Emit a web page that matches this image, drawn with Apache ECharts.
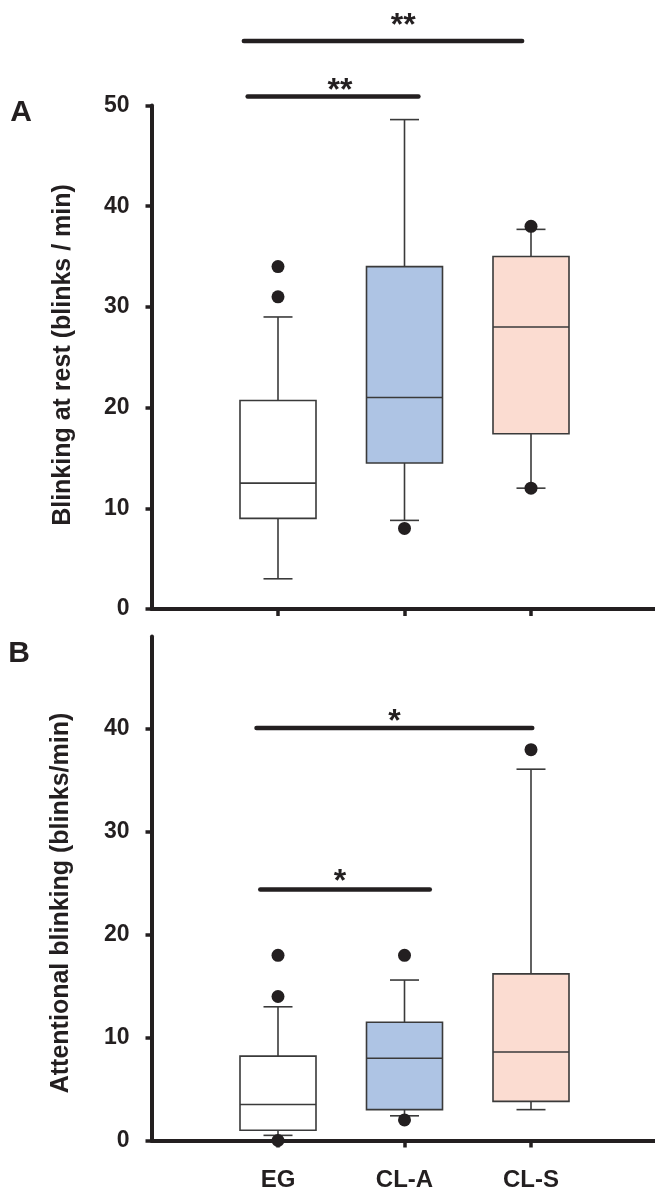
<!DOCTYPE html>
<html>
<head>
<meta charset="utf-8">
<script src="https://cdn.jsdelivr.net/npm/echarts@6/dist/echarts.min.js"></script>
<style>
  html, body { margin: 0; padding: 0; background: #ffffff; }
  #chart { width: 655px; height: 1193px; }
</style>
</head>
<body>
<div id="chart"></div>
<script>
// Groups
const categories = ['EG', 'CL-A', 'CL-S'];

// Blinking at rest: [lower whisker, Q1, median, Q3, upper whisker] per group
const restBoxes = [
  [3, 9, 12.5, 20.7, 29],
  [8.8, 14.5, 21, 34, 48.6],
  [12, 17.4, 28, 35, 37.7]
];
const restOutliers = [['EG', 31], ['EG', 34], ['CL-A', 8], ['CL-S', 12], ['CL-S', 38]];

// Attentional blinking
const attBoxes = [
  [0.5, 1, 3.5, 8.2, 13],
  [2.4, 3, 8, 11.5, 15.6],
  [3, 3.8, 8.6, 16.2, 36.1]
];
const attOutliers = [['EG', 0], ['EG', 14], ['EG', 18], ['CL-A', 2], ['CL-A', 18], ['CL-S', 38]];

// Axis ticks
const restTicks = [0, 10, 20, 30, 40, 50];
const attTicks = [0, 10, 20, 30, 40];

// Significance brackets: [from, to, level, marker x, marker level]
const restSig = [[0.73, 2.93, 56.4, 1.99, 58.7], [0.76, 2.11, 50.9, 1.49, 52.2]];
const restSigText = ['**', '**'];
const attSig = [[0.83, 3.01, 40.1, 1.92, 41.4], [0.86, 2.2, 24.4, 1.49, 25.9]];
const attSigText = ['*', '*'];

const ink = '#231f20';
const boxLine = '#3a3a3a';
const boxFills = ['#ffffff', '#aec4e4', '#fbdcd1'];
const font = '"Liberation Sans", Arial, Helvetica, sans-serif';

const chart = echarts.init(document.getElementById('chart'), null, { renderer: 'canvas' });

function yAxisFor(gridIndex, max, ticks) {
  return {
    type: 'value', gridIndex, min: 0, max, interval: 10,
    axisLine: { show: true, lineStyle: { color: ink, width: 4 } },
    axisTick: { show: true, length: 6, customValues: ticks, lineStyle: { color: ink, width: 3.5 } },
    axisLabel: { customValues: ticks, margin: 22, color: ink, fontSize: 23, fontWeight: 'bold', fontFamily: font },
    splitLine: { show: false }
  };
}

function xAxisFor(gridIndex, showLabels) {
  const pos = categories.map((c, i) => i + 1);
  return {
    type: 'value', gridIndex, min: 0, max: categories.length + 1, interval: 1,
    axisLine: { show: true, lineStyle: { color: ink, width: 4 } },
    axisTick: { show: true, length: 7, customValues: pos, lineStyle: { color: ink, width: 3.5 } },
    axisLabel: {
      show: showLabels, customValues: pos, margin: 28,
      formatter: v => categories[Math.round(v) - 1] || '',
      color: ink, fontSize: 24, fontWeight: 'bold', fontFamily: font
    },
    splitLine: { show: false }
  };
}

function boxSeries(idx, boxes) {
  return {
    type: 'custom', xAxisIndex: idx, yAxisIndex: idx, clip: false, z: 3,
    data: boxes.map((b, i) => [i + 1].concat(b)),
    encode: { x: 0, y: [1, 2, 3, 4, 5] },
    renderItem(params, api) {
      const x = api.value(0);
      const p = [1, 2, 3, 4, 5].map(d => api.coord([x, api.value(d)]));
      const cx = p[0][0];
      const half = 38, cap = 14.5;
      const ls = { stroke: boxLine, lineWidth: 1.6 };
      return {
        type: 'group',
        children: [
          { type: 'line', shape: { x1: cx, y1: p[1][1], x2: cx, y2: p[0][1] }, style: ls },
          { type: 'line', shape: { x1: cx - cap, y1: p[0][1], x2: cx + cap, y2: p[0][1] }, style: ls },
          { type: 'line', shape: { x1: cx, y1: p[3][1], x2: cx, y2: p[4][1] }, style: ls },
          { type: 'line', shape: { x1: cx - cap, y1: p[4][1], x2: cx + cap, y2: p[4][1] }, style: ls },
          { type: 'rect', shape: { x: cx - half, y: p[3][1], width: half * 2, height: p[1][1] - p[3][1] },
            style: { fill: boxFills[params.dataIndex], stroke: boxLine, lineWidth: 1.6 } },
          { type: 'line', shape: { x1: cx - half, y1: p[2][1], x2: cx + half, y2: p[2][1] }, style: ls }
        ]
      };
    }
  };
}

function outlierSeries(idx, pts) {
  return {
    type: 'scatter', xAxisIndex: idx, yAxisIndex: idx, clip: false, z: 4,
    symbol: 'circle', symbolSize: 13,
    itemStyle: { color: ink, opacity: 1 },
    data: pts.map(o => [categories.indexOf(o[0]) + 1, o[1]])
  };
}

function sigSeries(idx, rows, texts) {
  return {
    type: 'custom', xAxisIndex: idx, yAxisIndex: idx, clip: false, z: 5,
    data: rows,
    encode: { x: [0, 1, 3], y: [2, 4] },
    renderItem(params, api) {
      const a = api.coord([api.value(0), api.value(2)]);
      const b = api.coord([api.value(1), api.value(2)]);
      const t = api.coord([api.value(3), api.value(4)]);
      return {
        type: 'group',
        children: [
          { type: 'line', shape: { x1: a[0], y1: a[1], x2: b[0], y2: b[1] },
            style: { stroke: ink, lineWidth: 4.5, lineCap: 'round' } },
          { type: 'text', x: t[0], y: t[1] + 8,
            style: { text: texts[params.dataIndex], fill: ink, align: 'center', verticalAlign: 'middle',
                     font: 'bold 32px ' + font } }
        ]
      };
    }
  };
}

const titleStyle = { fill: ink, font: 'bold 25px ' + font, align: 'center', verticalAlign: 'middle' };

chart.setOption({
  backgroundColor: '#ffffff',
  animation: false,
  grid: [
    { left: 151.5, top: 105.5, width: 506, height: 503.5, outerBoundsMode: 'none' },
    { left: 151.5, top: 636.5, width: 506, height: 504, outerBoundsMode: 'none' }
  ],
  xAxis: [xAxisFor(0, false), xAxisFor(1, true)],
  yAxis: [yAxisFor(0, 50, restTicks), yAxisFor(1, 49, attTicks)],
  series: [
    boxSeries(0, restBoxes),
    outlierSeries(0, restOutliers),
    sigSeries(0, restSig, restSigText),
    boxSeries(1, attBoxes),
    outlierSeries(1, attOutliers),
    sigSeries(1, attSig, attSigText)
  ],
  graphic: [
    { type: 'text', x: 21, y: 113, style: { text: 'A', fill: ink, font: 'bold 30px ' + font, align: 'center', verticalAlign: 'middle' } },
    { type: 'text', x: 19, y: 654, style: { text: 'B', fill: ink, font: 'bold 30px ' + font, align: 'center', verticalAlign: 'middle' } },
    { type: 'text', x: 63, y: 355, rotation: Math.PI / 2, style: Object.assign({ text: 'Blinking at rest (blinks / min)' }, titleStyle) },
    { type: 'text', x: 61, y: 903, rotation: Math.PI / 2, style: Object.assign({ text: 'Attentional blinking (blinks/min)' }, titleStyle) }
  ]
});
</script>
</body>
</html>
